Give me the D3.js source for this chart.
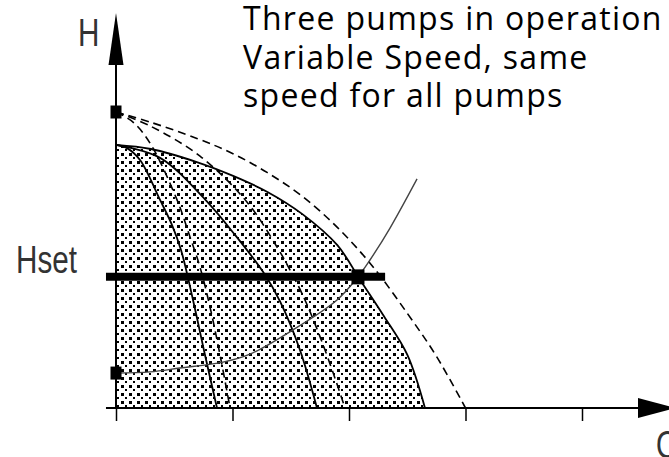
<!DOCTYPE html>
<html>
<head>
<meta charset="utf-8">
<script src="https://cdn.jsdelivr.net/npm/d3@7"></script>
<style>
  body { margin: 0; background: #fff; }
  svg { display: block; }
</style>
</head>
<body>
<div id="chart"></div>
<script>
// Q ticks and the set head
const qTicks = [0, 1, 2, 3, 4];
const hSet = 4.43;
const hSetBarEnd = 2.31;
const titleLines = ["Three pumps in operation", "Variable Speed, same", "speed for all pumps"];

// max speed curves (dashed), 1, 2 and 3 pumps  [Q, H]
const maxSpeed1 = [[0, 10], [0.146, 9.66], [0.292, 8.95], [0.524, 7.03], [0.635, 5.78], [0.721, 4.76], [0.807, 3.41], [0.893, 1.79], [0.979, 0]];
const maxSpeed2 = [[0, 10], [0.292, 9.53], [0.721, 8.51], [1.124, 6.96], [1.382, 5.44], [1.494, 4.66], [1.622, 3.65], [1.794, 1.96], [1.966, 0]];
const maxSpeed3 = [[0, 10], [0.3, 9.65], [0.7, 9.1], [1.0, 8.6], [1.3, 7.95], [1.6, 7.15], [1.9, 6.1], [2.2, 4.8], [2.5, 3.2], [2.75, 1.75], [3.0, 0]];

// reduced speed curves (solid), 1, 2 and 3 pumps
const redSpeed1 = [[0, 8.89], [0.094, 8.78], [0.206, 8.38], [0.378, 7.03], [0.481, 6.18], [0.558, 5.34], [0.661, 3.65], [0.764, 1.79], [0.867, 0]];
const redSpeed2 = [[0, 8.89], [0.378, 8.45], [0.764, 7.05], [1.021, 5.85], [1.262, 4.6], [1.408, 3.6], [1.579, 1.96], [1.725, 0]];
const redSpeed3 = [[0, 8.89], [0.3, 8.75], [0.7, 8.3], [1.0, 7.85], [1.3, 7.3], [1.6, 6.55], [1.9, 5.5], [2.1, 4.3], [2.3, 3.1], [2.5, 1.8], [2.652, 0]];

// system curve
const systemCurve = [[0, 1.18], [0.292, 1.22], [0.549, 1.35], [0.918, 1.55], [1.150, 1.82], [1.519, 2.64], [1.897, 3.65], [2.077, 4.43], [2.180, 5.0], [2.352, 6.08], [2.584, 7.74]];

// marked points
const markers = [[0, 10], [0, 1.18], [2.077, 4.43]];

const w = 669;
const h = 457;

const xScale = d3.scaleLinear().domain([0, 4]).range([116, 582]);
const yScale = d3.scaleLinear().domain([0, 10]).range([408, 112]);

const svg = d3.select("#chart")
    .append("svg")
    .attr("width", w)
    .attr("height", h);

// dot pattern for the working area
const pat = svg.append("defs").append("pattern")
    .attr("id", "dots")
    .attr("patternUnits", "userSpaceOnUse")
    .attr("width", 8)
    .attr("height", 8);
pat.append("rect").attr("x", 1).attr("y", 1).attr("width", 3).attr("height", 3).attr("fill", "#000");
pat.append("rect").attr("x", 5).attr("y", 5).attr("width", 2).attr("height", 2).attr("fill", "#000");

const line = d3.line()
    .x(d => xScale(d[0]))
    .y(d => yScale(d[1]))
    .curve(d3.curveCatmullRom.alpha(0.5));

const area = d3.area()
    .x(d => xScale(d[0]))
    .y0(yScale(0))
    .y1(d => yScale(d[1]))
    .curve(d3.curveCatmullRom.alpha(0.5));

svg.append("path")
    .datum(redSpeed3)
    .attr("d", area)
    .attr("fill", "url(#dots)");

// curves
[redSpeed1, redSpeed2, redSpeed3].forEach(function (c) {
    svg.append("path")
        .datum(c)
        .attr("d", line)
        .attr("fill", "none")
        .attr("stroke", "#000")
        .attr("stroke-width", 1.8);
});
[maxSpeed1, maxSpeed2, maxSpeed3].forEach(function (c) {
    svg.append("path")
        .datum(c)
        .attr("d", line)
        .attr("fill", "none")
        .attr("stroke", "#000")
        .attr("stroke-width", 1.6)
        .attr("stroke-dasharray", "8,5");
});

svg.append("path")
    .datum(systemCurve)
    .attr("d", line)
    .attr("fill", "none")
    .attr("stroke", "#444")
    .attr("stroke-width", 1.4);

// Hset bar
svg.append("line")
    .attr("x1", xScale(-0.086))
    .attr("x2", xScale(hSetBarEnd))
    .attr("y1", yScale(hSet))
    .attr("y2", yScale(hSet))
    .attr("stroke", "#000")
    .attr("stroke-width", 8);

// axes
const xAxis = d3.axisBottom(xScale).tickValues(qTicks).tickSize(13).tickSizeOuter(0).tickFormat("");
const gx = svg.append("g")
    .attr("transform", "translate(0," + yScale(0) + ")")
    .call(xAxis);
gx.select(".domain").remove();
gx.selectAll(".tick line").attr("stroke", "#000").attr("stroke-width", 1.5);

const yAxis = d3.axisLeft(yScale).tickValues([hSet]).tickSize(10).tickSizeOuter(0).tickFormat("");
const gy = svg.append("g")
    .attr("transform", "translate(" + xScale(0) + ",0)")
    .call(yAxis);
gy.select(".domain").remove();
gy.selectAll(".tick line").attr("stroke", "#000").attr("stroke-width", 1.5);

svg.append("line")
    .attr("x1", xScale(-0.086)).attr("x2", 640)
    .attr("y1", yScale(0)).attr("y2", yScale(0))
    .attr("stroke", "#000").attr("stroke-width", 2);
svg.append("line")
    .attr("x1", xScale(0)).attr("x2", xScale(0))
    .attr("y1", yScale(0)).attr("y2", 60)
    .attr("stroke", "#000").attr("stroke-width", 2);

// arrow heads
svg.append("path")
    .attr("d", "M" + (xScale(0) - 7.5) + ",65 L" + xScale(0) + ",13 L" + (xScale(0) + 7.5) + ",65 Z")
    .attr("fill", "#000");
svg.append("path")
    .attr("d", "M638," + (yScale(0) - 10) + " L676," + yScale(0) + " L638," + (yScale(0) + 10) + " Z")
    .attr("fill", "#000");

// marked points
svg.selectAll("rect.mark")
    .data(markers)
    .enter()
    .append("rect")
    .attr("class", "mark")
    .attr("x", (d, i) => xScale(d[0]) - (i === 2 ? 6.5 : 5.5))
    .attr("y", (d, i) => yScale(d[1]) - (i === 2 ? 7.5 : 6.5))
    .attr("width", (d, i) => i === 2 ? 13 : 11)
    .attr("height", (d, i) => i === 2 ? 15 : 13)
    .attr("fill", "#000");

// labels
const narrow = "'Liberation Sans Narrow', 'Arial Narrow', 'Liberation Sans', sans-serif";
svg.append("text")
    .attr("transform", "translate(78,46) scale(0.78,1)")
    .style("font-family", narrow)
    .style("font-size", "38px")
    .attr("fill", "#333")
    .text("H");
svg.append("text")
    .attr("transform", "translate(16," + (yScale(hSet) - 4) + ") scale(0.78,1)")
    .style("font-family", narrow)
    .style("font-size", "38px")
    .attr("fill", "#333")
    .text("Hset");
svg.append("text")
    .attr("transform", "translate(656,458) scale(0.78,1)")
    .style("font-family", narrow)
    .style("font-size", "38px")
    .attr("fill", "#333")
    .text("Q");

svg.selectAll("text.title")
    .data(titleLines)
    .enter()
    .append("text")
    .attr("class", "title")
    .attr("x", 243)
    .attr("y", (d, i) => 30 + i * 38.5)
    .style("font-family", "'Open Sans', sans-serif")
    .style("font-size", "32px")
    .style("letter-spacing", "1.3px")
    .attr("fill", "#000")
    .text(d => d);
</script>
</body>
</html>
